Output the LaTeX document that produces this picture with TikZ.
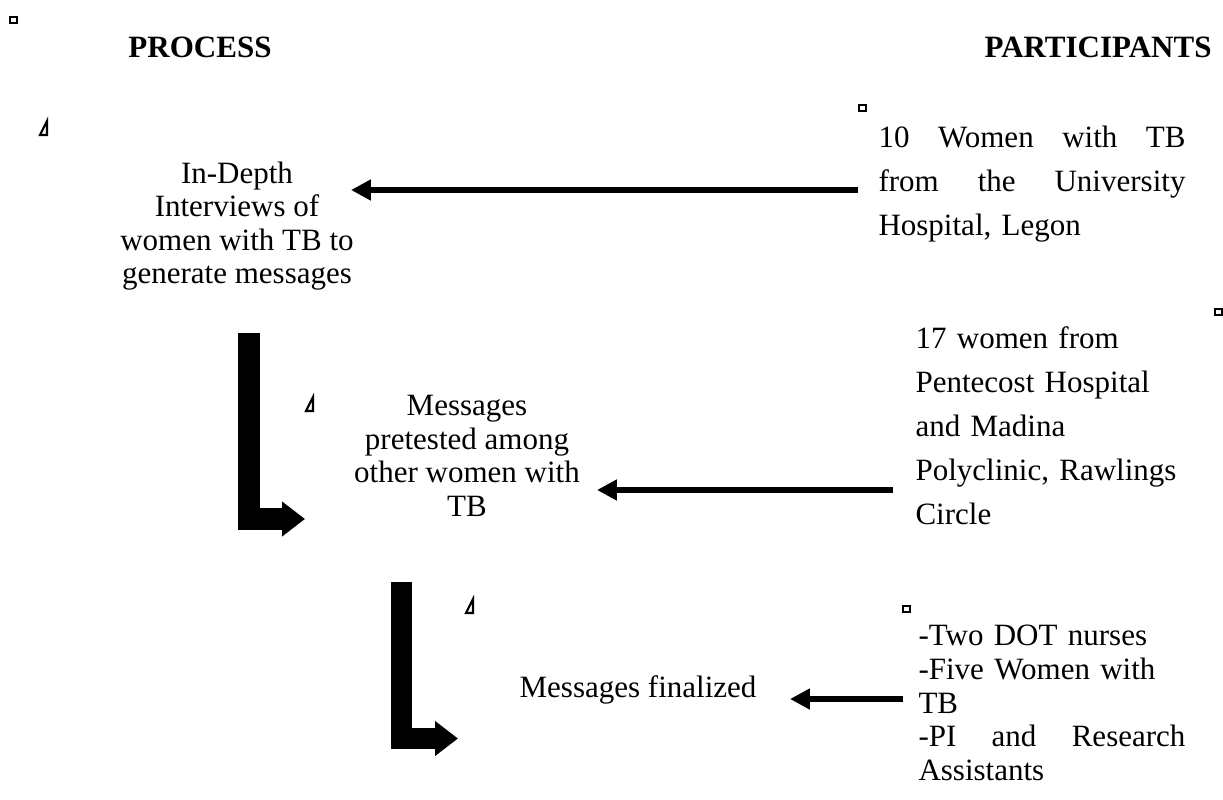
\documentclass[tikz,border=0pt]{standalone}
\usepackage{fontspec}
\setmainfont{Liberation Serif}
\usetikzlibrary{arrows.meta, positioning}
\tikzset{
    headText/.style={font=\fontsize{12}{14}\selectfont\bfseries, inner sep=0pt},
    stepText/.style={font=\fontsize{12}{13}\selectfont, align=center, inner sep=0pt},
    partText/.style={font=\fontsize{12}{17}\selectfont, align=left, inner sep=0pt, anchor=west},
    feedArrow/.style={-{Triangle[length=7.7pt, width=7.7pt]}, line width=2.7pt},
    elbowArrow/.style={-{Triangle[length=8.9pt, width=13pt]}, line width=8.5pt},
    anchorBox/.style={draw, line width=0.45pt, fill=white},
    anchorTri/.style={draw, line width=0.8pt, fill=white}
}
\begin{document}
\begin{tikzpicture}[x=0.387pt, y=-0.387pt]
        \useasboundingbox (0,0) rectangle (1223,799);

        % Column headings
        \node[headText] (hProc) at (200,47) {PROCESS};
        \node[headText, anchor=east] (hPart) at (1212,47) {PARTICIPANTS};

        % Process steps
        \node[stepText] (step1) at (237,226)
            {In-Depth\\ Interviews of\\ women with TB to\\ generate messages};
        \node[stepText] (step2) at (467,456)
            {Messages\\ pretested among\\ other women with\\ TB};
        \node[stepText] (step3) at (638,690) {Messages finalized};

        % Participants
        \node[partText, text width=118.8pt] (part1) at (878,184)
            {10\hfill Women\hfill with\hfill TB\\
             from\hfill the\hfill University\\
             Hospital, Legon};
        \node[partText, text width=104.5pt] (part2) at (915,426)
            {17 women from\\ Pentecost Hospital\\ and Madina\\
             Polyclinic, Rawlings\\ Circle};
        \node[partText, text width=103.3pt, font=\fontsize{12}{13}\selectfont] (part3) at (918,703)
            {-Two DOT nurses\\ -Five Women with\\ TB\\
             -PI\hfill and\hfill Research\\ Assistants};

        % Arrow ends
        \coordinate (a1from) at (858,190);
        \coordinate (a1to) at (351,190);
        \coordinate (a2from) at (893,490);
        \coordinate (a2to) at (597,490);
        \coordinate (a3from) at (903,699);
        \coordinate (a3to) at (790,699);

        \draw[feedArrow] (a1from) -- (a1to);
        \draw[feedArrow] (a2from) -- (a2to);
        \draw[feedArrow] (a3from) -- (a3to);

        % Elbow arrows between steps
        \coordinate (e1top) at (249,333);
        \coordinate (e1tip) at (305,519);
        \coordinate (e2top) at (401.5,582);
        \coordinate (e2tip) at (458,738.5);

        \draw[elbowArrow] (e1top) |- (e1tip);
        \draw[elbowArrow] (e2top) |- (e2tip);

        % Anchor marks
        \draw[anchorBox] (10,17) rectangle ++(7,6);
        \draw[anchorBox] (859,105) rectangle ++(7,6);
        \draw[anchorBox] (1215,309) rectangle ++(7,6);
        \draw[anchorBox] (903,606) rectangle ++(7,6);
        \foreach \tx/\ty in {40/135, 306/411, 466/613} {
            \draw[anchorTri] (\tx,\ty) -- ++(7,-14) -- ++(0,14) -- cycle;
        }

    \end{tikzpicture}
\end{document}
